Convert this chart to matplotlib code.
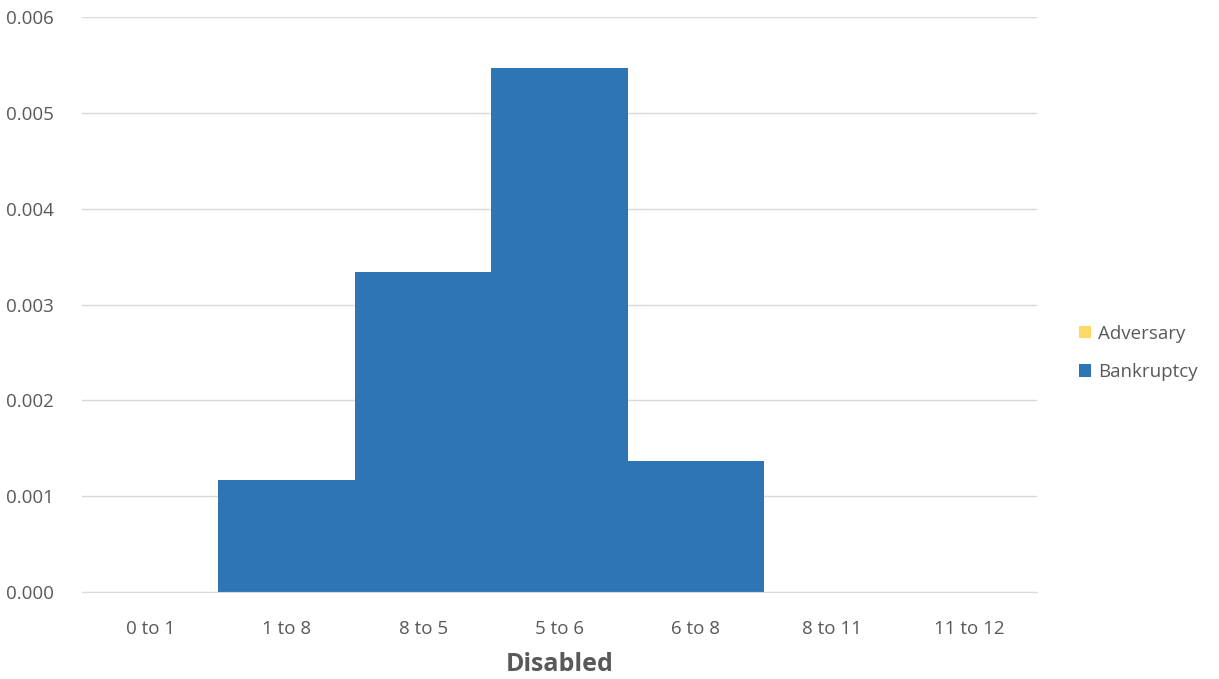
import matplotlib.pyplot as plt
import numpy as np

categories = ['0 to 1', '1 to 8', '8 to 5', '5 to 6', '6 to 8', '8 to 11', '11 to 12']
bankruptcy = [0.0, 0.00117, 0.00334, 0.00547, 0.00137, 0.0, 0.0]
adversary = [0.0, 0.0, 0.0, 0.0, 0.0, 0.0, 0.0]
yticks = [0.0, 0.001, 0.002, 0.003, 0.004, 0.005, 0.006]

plt.rcParams['font.family'] = ['Open Sans', 'DejaVu Sans']

fig = plt.figure(figsize=(12.19, 6.79), dpi=100)
ax = fig.add_axes([82 / 1219, 1 - 592 / 679, (1037 - 82) / 1219, (592 - 17) / 679])

x = np.arange(len(categories))
ax.bar(x, bankruptcy, width=1.0, color='#2E75B6', label='Bankruptcy', zorder=2)
ax.bar(x, adversary, width=1.0, bottom=bankruptcy, color='#FFD966', label='Adversary', zorder=2)

ax.set_xlim(-0.5, len(categories) - 0.5)
ax.set_ylim(0, 0.006)
ax.set_yticks(yticks)
ax.set_yticklabels(['%.3f' % v for v in yticks])
ax.set_xticks(x)
ax.set_xticklabels(categories)
ax.tick_params(axis='both', length=0, labelsize=13.5, labelcolor='#595959')
ax.tick_params(axis='x', pad=20)
ax.tick_params(axis='y', pad=20)
ax.grid(axis='y', color='#D9D9D9', linewidth=1, zorder=0)
for s in ['top', 'right', 'left']:
    ax.spines[s].set_visible(False)
ax.spines['bottom'].set_color('#D9D9D9')

ax.set_xlabel('Disabled', fontsize=18, fontweight='bold', color='#595959', labelpad=10)

handles, labels = ax.get_legend_handles_labels()
leg = fig.legend(handles[::-1], labels[::-1], loc='center left', bbox_to_anchor=(1062 / 1219, 1 - 353 / 679),
                 frameon=False, fontsize=13.5, handlelength=0.65, handleheight=0.65,
                 handletextpad=0.35, labelspacing=1.1)
for t in leg.get_texts():
    t.set_color('#595959')

fig.savefig('out.png', dpi=100)
